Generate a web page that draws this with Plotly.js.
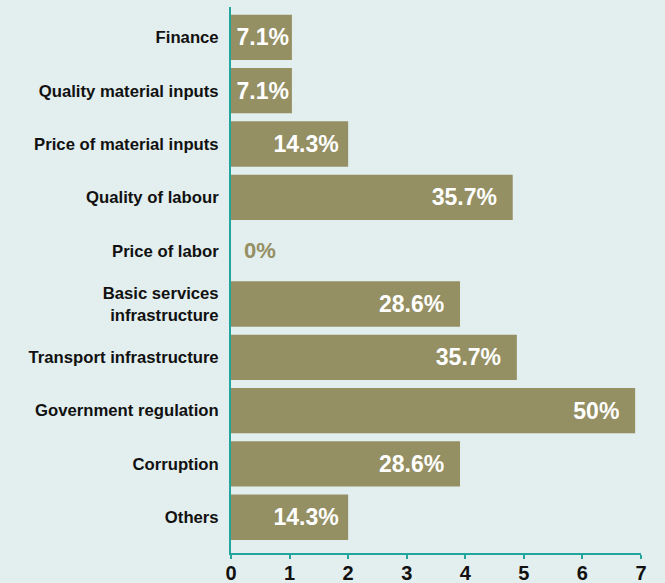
<!DOCTYPE html>
<html>
<head>
<meta charset="utf-8">
<script src="https://cdn.plot.ly/plotly-3.0.1.min.js"></script>
<style>
html,body{margin:0;padding:0;background:#e3eeee;}
#chart{width:665px;height:583px;}
</style>
</head>
<body>
<div id="chart"></div>
<script>
const categories = ["Finance", "Quality material inputs", "Price of material inputs", "Quality of labour", "Price of labor", "Basic services<br>infrastructure", "Transport infrastructure", "Government regulation", "Corruption", "Others"];
const values = [1.04, 1.04, 2.0, 4.81, 0, 3.91, 4.88, 6.9, 3.91, 2.0];
const labels = ["7.1%", "7.1%", "14.3%", "35.7%", "0%", "28.6%", "35.7%", "50%", "28.6%", "14.3%"];
const xTicks = [0, 1, 2, 3, 4, 5, 6, 7];

const barColor = '#958f64';
const axisColor = '#22a69c';
const fontFam = 'Liberation Sans, Arial, sans-serif';

// trailing padding inside wider bars (style only)
const templates = values.map(v => v >= 3 ? '%{text}\u00a0\u00a0' : (v >= 2 ? '%{text}\u00a0' : '%{text}'));

const trace = {
  type: 'bar',
  orientation: 'h',
  x: values,
  y: categories,
  text: labels.map((t, i) => values[i] > 0 ? t : ''),
  texttemplate: templates,
  textposition: 'inside',
  insidetextanchor: 'end',
  insidetextfont: {family: fontFam, size: 23, color: '#ffffff', weight: 'bold'},
  textfont: {family: fontFam, size: 23, color: '#ffffff', weight: 'bold'},
  marker: {color: barColor},
  width: 0.85,
  cliponaxis: false,
  hoverinfo: 'none'
};

const zeroAnnotations = values.map((v, i) => v > 0 ? null : {
  x: v, y: categories[i], xref: 'x', yref: 'y',
  text: labels[i], showarrow: false, xanchor: 'left', yanchor: 'middle',
  xshift: 11,
  font: {family: fontFam, size: 22, color: barColor, weight: 'bold'}
}).filter(a => a);

const layout = {
  width: 665,
  height: 583,
  paper_bgcolor: '#e3eeee',
  plot_bgcolor: '#e3eeee',
  margin: {l: 231, r: 24, t: 7, b: 30, pad: 0},
  showlegend: false,
  annotations: zeroAnnotations,
  xaxis: {
    range: [0, 7],
    tickvals: xTicks,
    ticktext: xTicks.map(String),
    showgrid: false,
    zeroline: false,
    showline: true,
    linecolor: axisColor,
    linewidth: 2,
    ticks: 'outside',
    ticklen: 4,
    tickwidth: 2,
    tickcolor: axisColor,
    ticklabelstandoff: -3,
    tickfont: {family: fontFam, size: 20, color: '#111111', weight: 'bold'},
    fixedrange: true
  },
  yaxis: {
    type: 'category',
    categoryorder: 'array',
    categoryarray: categories,
    range: [9.67, -0.57],
    showgrid: false,
    zeroline: false,
    showline: true,
    linecolor: axisColor,
    linewidth: 2,
    ticks: '',
    ticklabelstandoff: 7,
    tickfont: {family: fontFam, size: 16.7, color: '#111111', weight: 'bold'},
    fixedrange: true
  }
};

Plotly.newPlot('chart', [trace], layout, {displayModeBar: false, staticPlot: true});
</script>
</body>
</html>
